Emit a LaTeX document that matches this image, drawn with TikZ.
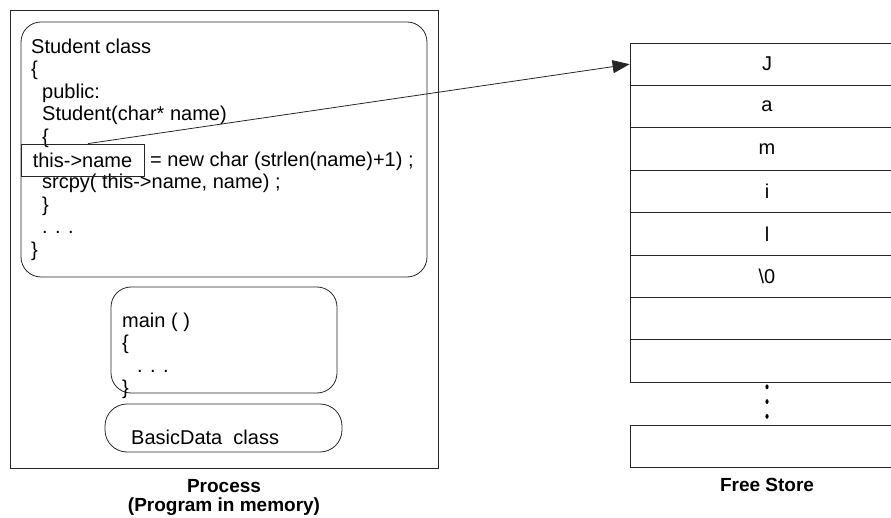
\documentclass[tikz,border=0pt]{standalone}
\usepackage{fontspec}
\setmainfont{Liberation Sans}
\usetikzlibrary{arrows.meta,positioning,calc}

\begin{document}
\begin{tikzpicture}[x=1pt, y=-1pt,
  every node/.style={font=\fontsize{20}{22.6}\selectfont, inner sep=0pt},
  frame/.style={draw=black!85, line width=0.8pt},
  blob/.style={frame, rounded corners=20pt},
  code/.style={align=left, anchor=north west},
  cell/.style={frame, minimum width=274pt, minimum height=42.4pt},
  lbl/.style={font=\fontsize{19}{19.5}\selectfont\bfseries, align=center},
]
  \useasboundingbox (0,0) rectangle (891,518);

  % Process side
  \node[frame, minimum width=428pt, minimum height=458pt] (proc) at (224,239) {};
  \node[blob, minimum width=406pt, minimum height=255pt] (stu) at (224,149.5) {};
  \node[blob, minimum width=226pt, minimum height=106pt] (mainb) at (224,340) {};
  \node[blob, rounded corners=22pt, minimum width=237pt, minimum height=48pt] (basic) at (223.5,428) {};

  \node[code] (stutext) at (31,38.4)
    {Student class\\
     \{\\
     \hspace*{11pt}public:\\
     \hspace*{11pt}Student(char* name)\\
     \hspace*{11pt}\{\\
     \hspace*{119pt}= new char (strlen(name)+1) ;\\
     \hspace*{11pt}srcpy( this->name, name) ;\\
     \hspace*{11pt}\}\\
     \hspace*{11pt}. . .\\
     \}};
  \node[frame, minimum width=123pt, minimum height=32pt] (tn) at (82.5,160) {this->name};
  \node[code] (maintext) at (122,312.4)
    {main ( )\\
     \{\\
     \hspace*{15pt}. . .\\
     \}};
  \node[anchor=base west] (basictext) at (131,444) {BasicData\ \ class};

  % Free store
  \foreach \ch [count=\i] in {J,a,m,i,l,\textbackslash 0,{},{}}
    \node[cell] (c\i) at (767,{21.8+42.4*\i}) {\ch};
  \node[cell] (c9) at (767,446.4) {};
  \foreach \f in {0.1,0.45,0.8}
    \fill ($(c8.south)!\f!(c9.north)$) ellipse (1.6pt and 2.4pt);

  % pointer
  \draw[frame, -{Triangle[length=17pt,width=13pt]}] ([xshift=5.5pt]tn.north) -- (c1.west);

  % captions
  \node[lbl, below=10.5pt of proc] (proclbl) {Process\\(Program in memory)};
  \node[lbl, below=10.5pt of c9] (fslbl) {Free Store};
\end{tikzpicture}
\end{document}
